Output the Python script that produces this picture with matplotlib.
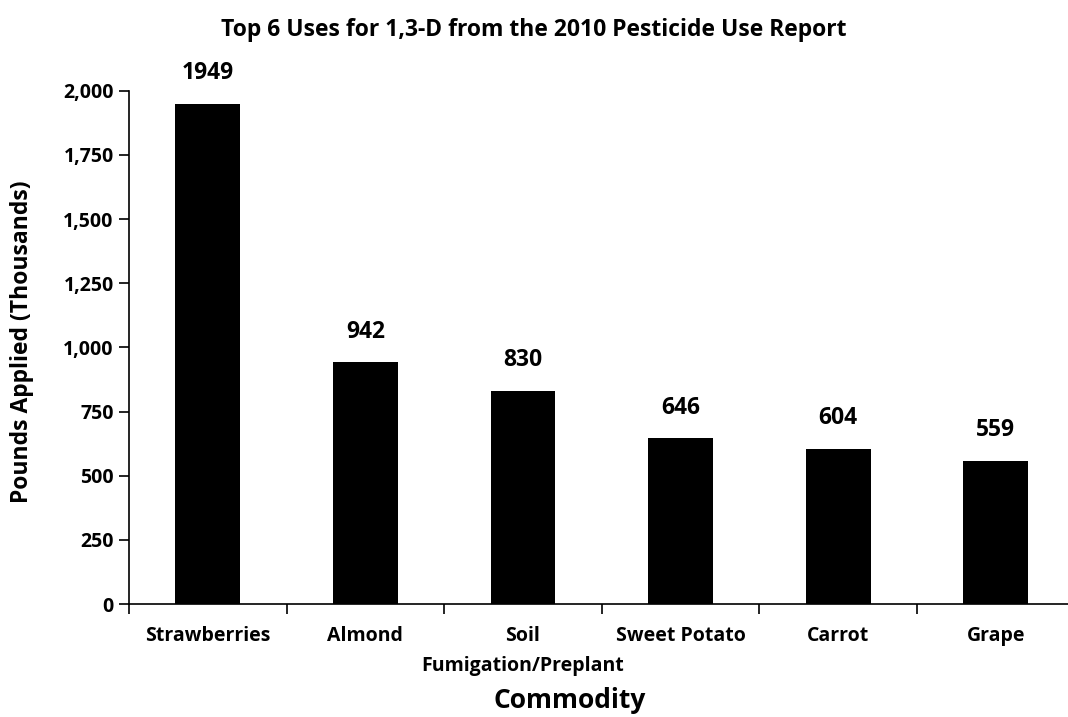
import matplotlib.pyplot as plt
from matplotlib.ticker import FuncFormatter, FixedLocator

commodities = ["Strawberries", "Almond", "Soil\nFumigation/Preplant", "Sweet Potato", "Carrot", "Grape"]
pounds = [1949, 942, 830, 646, 604, 559]

plt.rcParams["font.family"] = ["Open Sans", "DejaVu Sans"]
plt.rcParams["font.weight"] = "bold"

W, H = 1068, 717
fig = plt.figure(figsize=(W / 100, H / 100), dpi=100)
# plot area in pixels: left 129, right ~1075 (runs off the canvas), top 91, bottom 604
cat_w = 157.6
left, bottom, top = 129, 604, 90.7
ax = fig.add_axes([left / W, 1 - bottom / H, (W - left) / W, (bottom - top) / H])

x = list(range(len(pounds)))
ax.bar(x, pounds, width=0.41, color="black")

ax.set_xlim(-0.5, -0.5 + (W - left) / cat_w)
ax.set_ylim(0, 2000)
ax.set_yticks(range(0, 2001, 250))
ax.yaxis.set_major_formatter(FuncFormatter(lambda v, p: f"{int(v):,}"))
ax.set_xticks(x)
ax.set_xticklabels(commodities, linespacing=1.67, va="top")
ax.tick_params(axis="x", which="major", length=0, pad=16, labelsize=14)
ax.xaxis.set_minor_locator(FixedLocator([-0.5, 0.5, 1.5, 2.5, 3.5, 4.5]))
ax.tick_params(axis="x", which="minor", length=7, direction="out", width=1.2)
ax.tick_params(axis="y", length=7, width=1.2, direction="out", labelsize=14, pad=4)
for lab in ax.get_xticklabels() + ax.get_yticklabels():
    lab.set_fontweight("bold")

for s in ["top", "right"]:
    ax.spines[s].set_visible(False)
for s in ["left", "bottom"]:
    ax.spines[s].set_linewidth(1.2)

for i, v in enumerate(pounds):
    ax.annotate(str(v), (i, v), xytext=(0, 22), textcoords="offset points",
                ha="center", va="center", fontsize=16.5, fontweight="bold")

fig.text(534 / W, 1 - 30 / H, "Top 6 Uses for 1,3-D from the 2010 Pesticide Use Report",
         ha="center", va="center", fontsize=16.5, fontweight="bold")
fig.text(22 / W, 1 - 342 / H, "Pounds Applied (Thousands)", rotation=90,
         ha="center", va="center", fontsize=16.5, fontweight="bold")
fig.text(570 / W, 1 - 701 / H, "Commodity", ha="center", va="center",
         fontsize=19, fontweight="bold")

plt.savefig("out.png", dpi=100)
